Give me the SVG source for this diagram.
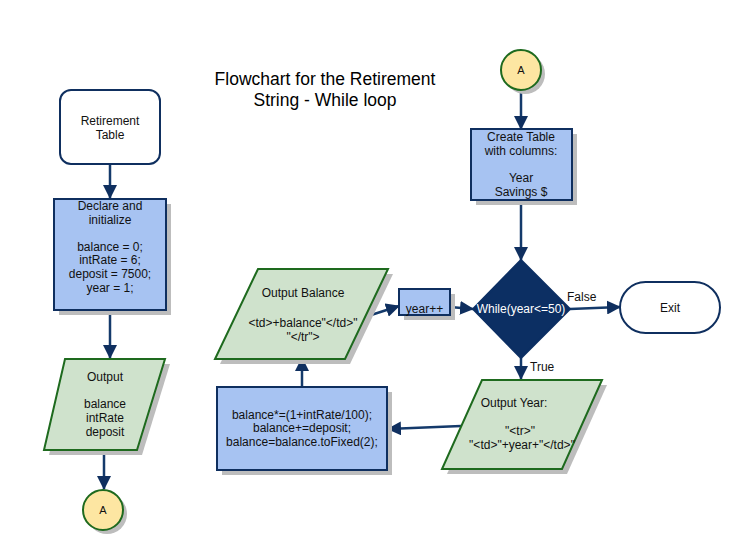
<svg xmlns="http://www.w3.org/2000/svg" width="740" height="550" viewBox="0 0 740 550">
<defs>
<style>
text{font-family:"Liberation Sans",Arial,sans-serif;font-size:12px;fill:#111;text-anchor:middle}
.title{font-size:17.5px;fill:#000}
.proc{fill:#a7c3f2;stroke:#0f2f5f;stroke-width:2}
.io{fill:#cfe2cc;stroke:#1e6a1e;stroke-width:2}
.term{fill:#fff;stroke:#0f2f5f;stroke-width:2}
.conn{fill:#fde6a2;stroke:#1e6a1e;stroke-width:2}
.shadow{fill:#bdbdbd}
.edge{fill:none;stroke:#143a6b;stroke-width:2.5}
.lbl{text-anchor:start}
</style>
<marker id="ah" markerWidth="14" markerHeight="14" refX="13" refY="7" orient="auto" markerUnits="userSpaceOnUse">
<path d="M0,0 L14,7 L0,14 Z" fill="#0f2f5f"/>
</marker>
</defs>
<rect width="740" height="550" fill="#fff"/>
<text class="title" x="325" y="85">Flowchart for the Retirement</text>
<text class="title" x="325" y="106">String - While loop</text>

<g id="edges">
<path class="edge" d="M110,165 V198" marker-end="url(#ah)"/>
<path class="edge" d="M110,310 V358" marker-end="url(#ah)"/>
<path class="edge" d="M104,450 V489" marker-end="url(#ah)"/>
<path class="edge" d="M521,90 V129" marker-end="url(#ah)"/>
<path class="edge" d="M521,200 V260" marker-end="url(#ah)"/>
<path class="edge" d="M570,309 L620,307" marker-end="url(#ah)"/>
<path class="edge" d="M521,358 V379" marker-end="url(#ah)"/>
<path class="edge" d="M461,426 L388,429" marker-end="url(#ah)"/>
<path class="edge" d="M302,387 V358" marker-end="url(#ah)"/>
<path class="edge" d="M368,316 L399,306" marker-end="url(#ah)"/>
<path class="edge" d="M450,307 L473,309" marker-end="url(#ah)"/>
<text class="lbl" x="567" y="301">False</text>
<text class="lbl" x="530" y="371">True</text>
</g>

<g id="start">
<rect class="term" x="60" y="90" width="100" height="74" rx="11"/>
<text x="110" y="125">Retirement</text>
<text x="110" y="139">Table</text>
</g>

<g id="declare">
<rect class="shadow" x="59" y="204" width="112" height="111"/>
<rect class="proc" x="54" y="199" width="112" height="111"/>
<text x="110" y="210">Declare and</text>
<text x="110" y="224">initialize</text>
<text x="110" y="251">balance = 0;</text>
<text x="110" y="264">intRate = 6;</text>
<text x="110" y="278">deposit = 7500;</text>
<text x="110" y="292">year = 1;</text>
</g>

<g id="output1">
<polygon class="shadow" points="70,364 170,364 142,455 49,455"/>
<polygon class="io" points="65,359 165,359 137,450 44,450"/>
<text x="105" y="381">Output</text>
<text x="105" y="408">balance</text>
<text x="105" y="422">intRate</text>
<text x="105" y="436">deposit</text>
</g>

<g id="connA1">
<circle class="shadow" cx="107" cy="514" r="20"/>
<circle class="conn" cx="103" cy="510" r="20"/>
<text x="103" y="514" style="font-size:11px">A</text>
</g>

<g id="connA2">
<circle class="shadow" cx="525" cy="74" r="20"/>
<circle class="conn" cx="521" cy="70" r="20"/>
<text x="521" y="74" style="font-size:11px">A</text>
</g>

<g id="create">
<rect class="shadow" x="476" y="134" width="101" height="71"/>
<rect class="proc" x="471" y="129" width="101" height="71"/>
<text x="521" y="141">Create Table</text>
<text x="521" y="155">with columns:</text>
<text x="521" y="182">Year</text>
<text x="521" y="196">Savings $</text>
</g>

<g id="decision">
<polygon points="521,260 570,309 521,358 473,309" fill="#0c2f63" stroke="#0c2f63" stroke-width="2"/>
<text x="521" y="313" style="fill:#fff">While(year&lt;=50)</text>
</g>

<g id="exit">
<rect class="term" x="620" y="282" width="100" height="51" rx="25.5"/>
<text x="670" y="312">Exit</text>
</g>

<g id="outyear">
<polygon class="shadow" points="487,385 607,385 567,474 447,474"/>
<polygon class="io" points="482,380 602,380 562,469 442,469"/>
<text x="514" y="407">Output Year:</text>
<text x="520" y="435">"&lt;tr&gt;"</text>
<text x="522" y="449">"&lt;td&gt;"+year+"&lt;/td&gt;"</text>
</g>

<g id="calc">
<rect class="shadow" x="222" y="392" width="170" height="83"/>
<rect class="proc" x="217" y="387" width="170" height="83"/>
<text x="302" y="419">balance*=(1+intRate/100);</text>
<text x="302" y="432">balance+=deposit;</text>
<text x="302" y="446">balance=balance.toFixed(2);</text>
</g>

<g id="outbal">
<polygon class="shadow" points="263,274 393,274 350,364 220,364"/>
<polygon class="io" points="258,269 388,269 345,359 215,359"/>
<text x="303" y="297">Output Balance</text>
<text x="303" y="327">&lt;td&gt;+balance"&lt;/td&gt;"</text>
<text x="303" y="341">"&lt;/tr"&gt;</text>
</g>

<g id="yearinc">
<rect class="shadow" x="404" y="294" width="51" height="26"/>
<rect class="proc" x="399" y="289" width="51" height="26"/>
<text x="424.5" y="313">year++</text>
</g>
</svg>
